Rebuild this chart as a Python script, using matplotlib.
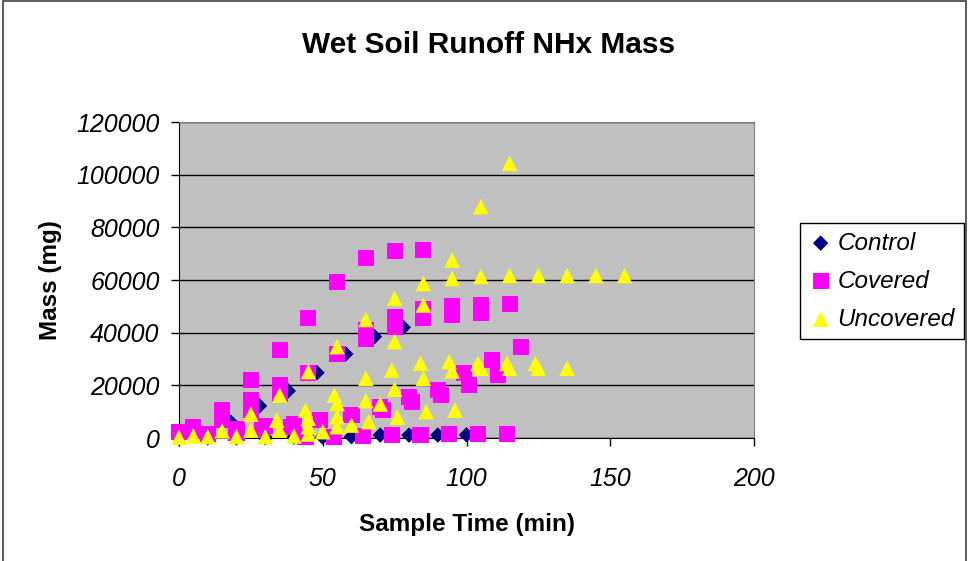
import matplotlib.pyplot as plt
from matplotlib.patches import Rectangle

plt.rcParams['font.family'] = ['Liberation Sans', 'DejaVu Sans']

# Control runs (time in min, NHx mass in mg)
control_t = [0, 8, 18, 28, 38, 48, 58, 68, 78,
             0, 10, 20, 30, 40, 50, 60, 70, 80, 90, 100]
control_m = [0, 1500, 6000, 12200, 17900, 24800, 31900, 38500, 42000,
             0, 0, 0, 100, 300, 300, 500, 1100, 1100, 1100, 1200]

# Covered runs
covered_t = [5, 15, 25, 35, 45, 55, 65, 75, 85,
             15, 25, 35, 45, 55, 65, 75, 85, 95, 105, 115,
             25, 35, 65, 75, 85, 95, 105,
             0, 10, 20, 29, 39, 49, 60, 70, 80, 90, 99, 109, 119,
             71, 81, 91, 101, 111,
             44, 54, 64, 74, 84, 94, 104, 114,
             5, 20, 30, 40]
covered_m = [4300, 10800, 22000, 33300, 45700, 59300, 68200, 71100, 71400,
             7000, 14400, 20200, 24800, 31900, 41000, 46000, 49000, 50000, 50500, 50800,
             10600, 16800, 37500, 42000, 45500, 46700, 47300,
             2400, 1500, 1800, 3000, 4300, 6800, 8700, 11900, 15700, 18200, 24500, 29600, 34400,
             10600, 13800, 16300, 20100, 23900,
             300, 300, 600, 1000, 1300, 1500, 1500, 1500,
             2500, 3500, 4500, 5500]

# Uncovered runs
uncovered_t = [0, 5, 15, 25, 35, 45, 55, 65, 75, 85, 95, 105, 115,
               75, 85, 95, 105, 115, 125, 135, 145, 155,
               25, 34, 44, 54, 65, 74, 84, 94, 104, 114, 124,
               35, 45, 55, 65, 75, 85, 95, 105, 115, 125, 135,
               45, 55, 66, 70, 76, 86, 96,
               50, 60,
               10, 20, 30, 40, 45, 55]
uncovered_m = [300, 800, 2700, 9100, 16300, 25200, 34700, 45000, 53000, 58700, 67600, 87900, 104300,
               36600, 50500, 60600, 61300, 61700, 61700, 61700, 61700, 61700,
               3000, 6800, 10600, 16300, 22700, 25800, 28400, 29000, 28300, 28300, 28300,
               3000, 7500, 13100, 14200, 18500, 22700, 25500, 26500, 26500, 26500, 26500,
               4300, 8100, 6200, 12900, 7900, 10000, 10600,
               2400, 4900,
               500, 500, 500, 800, 1500, 4300]

fig = plt.figure(figsize=(9.71, 5.61), dpi=100)
fig.patches.append(Rectangle((3 / 971, -0.01), 963 / 971, 1 - 1 / 561 + 0.01,
                             transform=fig.transFigure, fill=False,
                             edgecolor='#404040', linewidth=1.2))

ax = fig.add_axes([179 / 971, 1 - 438 / 561, 575 / 971, 316 / 561])
ax.set_facecolor('#C0C0C0')

ax.scatter(control_t, control_m, marker='D', s=62, color='#000080',
           edgecolors='none', label='Control', zorder=3, clip_on=False)
ax.scatter(covered_t, covered_m, marker='s', s=133, color='#FF00FF',
           edgecolors='none', label='Covered', zorder=4, clip_on=False)
ax.scatter(uncovered_t, uncovered_m, marker='^', s=125, color='#FFFF00',
           edgecolors='none', label='Uncovered', zorder=5, clip_on=False)

ax.set_xlim(0, 200)
ax.set_ylim(0, 120000)
ax.set_xticks([0, 50, 100, 150, 200])
ax.set_yticks(range(0, 120001, 20000))
ax.yaxis.grid(True, color='black', linewidth=1)
ax.set_axisbelow(True)
for side in ['top', 'right']:
    ax.spines[side].set_color('#808080')
ax.spines['left'].set_color('black')
ax.spines['bottom'].set_color('black')
ax.tick_params(direction='out', length=6, width=1, labelsize=18,
               colors='black')
ax.tick_params(axis='x', pad=15)
ax.tick_params(axis='y', pad=8)
for lab in ax.get_xticklabels() + ax.get_yticklabels():
    lab.set_fontstyle('italic')

ax.set_xlabel('Sample Time (min)', fontsize=17.5, fontweight='bold', labelpad=16)
ax.set_ylabel('Mass (mg)', fontsize=17.5, fontweight='bold', labelpad=10)
fig.text(489 / 971, 1 - 45 / 561, 'Wet Soil Runoff NHx Mass', ha='center',
         va='center', fontsize=21.5, fontweight='bold')

leg = ax.legend(loc='upper left', bbox_to_anchor=(800 / 971, 1 - 223 / 561),
                bbox_transform=fig.transFigure, fancybox=False, frameon=True,
                edgecolor='black', framealpha=1, borderpad=0.35,
                labelspacing=0.62, handletextpad=0.2, handlelength=1.0,
                borderaxespad=0, prop={'size': 17.5, 'style': 'italic'})
leg.get_frame().set_linewidth(1)

fig.savefig('out.png', dpi=100)
